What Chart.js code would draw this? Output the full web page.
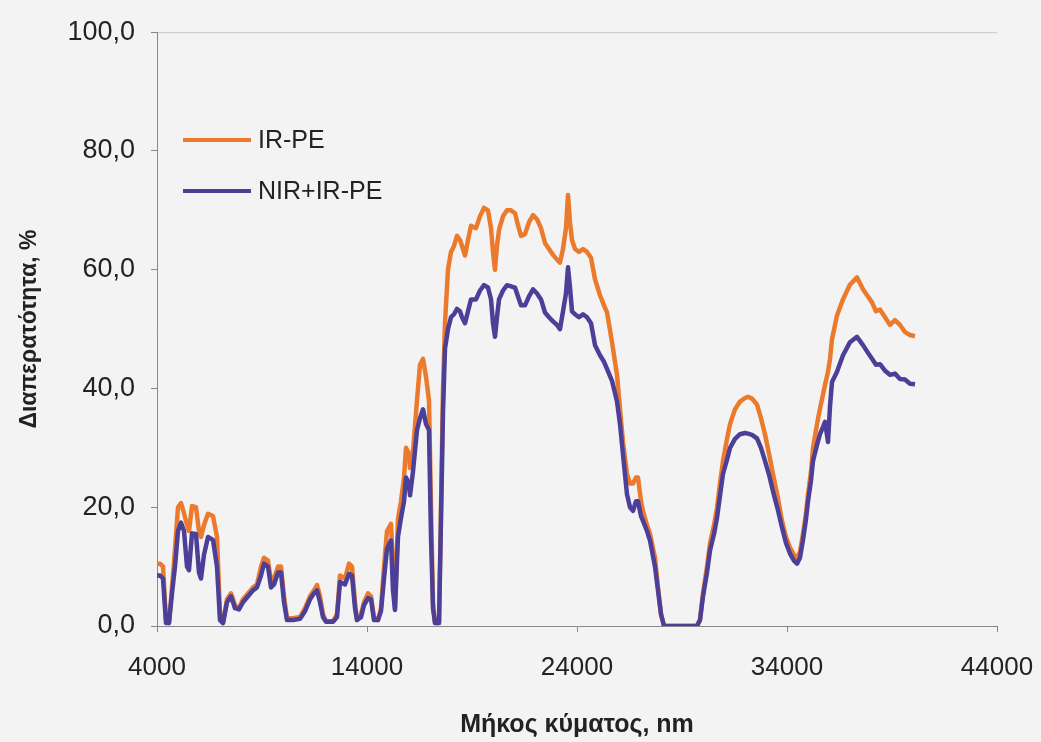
<!DOCTYPE html>
<html>
<head>
<meta charset="utf-8">
<script src="https://cdn.jsdelivr.net/npm/chart.js@4.4.1/dist/chart.umd.min.js"></script>
<style>
  html, body { margin: 0; padding: 0; background: #f3f3f3; }
  #wrap { width: 1041px; height: 742px; }
</style>
</head>
<body>
<div id="wrap"><canvas id="myChart" width="1041" height="742"></canvas></div>
<script>
// wavelength, nm
const wavelengths = [4000, 4143, 4286, 4429, 4571, 4714, 4857, 5000, 5143, 5286, 5429, 5524, 5667, 5857, 6000, 6095, 6238, 6429, 6667, 6857,
  7000, 7143, 7333, 7524, 7714, 7905, 8095, 8333, 8571, 8762, 8952, 9095, 9286, 9429, 9571, 9762, 9905, 10048, 10190, 10476,
  10810, 11048, 11286, 11476, 11619, 11762, 11905, 12048, 12381, 12571, 12714, 12952, 13143, 13286, 13429, 13524, 13714, 13857, 14048, 14190,
  14333, 14524, 14667, 14810, 14952, 15143, 15238, 15333, 15476, 15619, 15762, 15857, 16000, 16048, 16190, 16381, 16524, 16667, 16810, 16952,
  17048, 17143, 17238, 17429, 17524, 17619, 17714, 17857, 18000, 18143, 18286, 18429, 18524, 18667, 18810, 18952, 19190, 19381, 19571, 19762,
  19905, 20000, 20095, 20190, 20286, 20476, 20667, 20857, 21048, 21190, 21333, 21524, 21714, 21905, 22095, 22286, 22476, 22667, 22857, 23048,
  23190, 23333, 23476, 23571, 23667, 23762, 23905, 24095, 24286, 24476, 24667, 24857, 25095, 25286, 25429, 25667, 25905, 26048, 26190, 26381,
  26524, 26667, 26810, 26905, 27048, 27143, 27333, 27476, 27714, 27857, 28000, 28143, 29714, 29857, 30000, 30190, 30333, 30524, 30667, 30810,
  30952, 31143, 31286, 31524, 31762, 32000, 32143, 32333, 32571, 32762, 32952, 33143, 33333, 33571, 33762, 33952, 34143, 34333, 34476, 34619,
  34762, 34905, 35000, 35143, 35238, 35429, 35571, 35714, 35810, 35952, 36048, 36143, 36381, 36667, 37000, 37333, 37619, 37857, 38048, 38238,
  38429, 38667, 38905, 39143, 39381, 39619, 39857, 40095]

// transmittance, %
const irPe = [10.5, 10.5, 10, 1, 0.5, 6.5, 13, 20, 20.7, 19, 17, 16, 20.2, 20, 16, 15, 17, 18.9, 18.5, 15,
  2, 0.5, 4.5, 5.5, 3.5, 3, 4.5, 5.5, 6.5, 7, 10, 11.5, 11, 7.5, 8, 10, 10, 5, 1.3, 1.3,
  1.5, 3, 5, 6, 6.9, 5, 2, 0.8, 0.8, 2, 8.5, 8, 10.5, 10, 4, 1, 2, 4, 5.5, 5,
  1.5, 1, 3, 10, 16, 17.2, 10, 3, 18, 21, 25, 30, 29, 26.6, 29.4, 38, 44, 45, 42, 38,
  20, 4, 0.5, 0.5, 20, 40, 51, 60, 63, 64, 65.7, 65, 64, 62.4, 65, 67.4, 67, 69, 70.4, 70,
  67, 63, 60, 64, 66.7, 69, 70, 70, 69.5, 67.5, 65.7, 66, 68, 69.2, 68.5, 67, 64.5, 63.5, 62.5, 61.7,
  61.2, 63.5, 67, 72.6, 68, 65, 63.5, 63, 63.5, 63, 62, 58.4, 55.7, 54, 52.8, 47.8, 42.3, 36.6, 31, 25.6,
  24, 24, 25, 25, 21, 19.4, 17, 15.5, 11.5, 6.5, 2, 0, 0, 1, 5.5, 10, 13.9, 17, 19.9, 24,
  27.8, 31.5, 34, 36.5, 37.8, 38.4, 38.6, 38.3, 37.3, 35, 32.3, 29, 25.6, 21.5, 17.7, 15, 13.2, 12, 11.5, 12.5,
  15.5, 19, 22.2, 26, 30, 34, 36.6, 39, 40.6, 42.8, 45, 48.3, 52.3, 55, 57.5, 58.7, 56.7, 55.5, 54.5, 53,
  53.3, 52, 50.7, 51.5, 50.7, 49.5, 49, 48.8]

const nirIrPe = [8.5, 8.5, 8, 0.5, 0.5, 5.5, 10, 16, 17.4, 16, 10, 9.4, 15.6, 15.5, 9, 8, 12, 15, 14.5, 10,
  1, 0.5, 4, 5, 3, 2.8, 4, 5, 6, 6.5, 8.5, 10.5, 10, 6.5, 7, 9, 9, 4, 1, 1,
  1.2, 2.5, 4.5, 5.5, 6, 4, 1.5, 0.7, 0.7, 1.5, 7.4, 7, 8.8, 8.5, 3, 1, 1.5, 3.5, 4.7, 4.5,
  1, 1, 2.5, 8, 13, 14.4, 6, 2.7, 15, 18.2, 21, 25, 24, 22, 26, 33, 35, 36.5, 34, 33,
  15, 3, 0.5, 0.5, 18, 36, 46.7, 50, 52, 52.5, 53.4, 53, 52, 51, 53, 55, 55, 56.5, 57.4, 57,
  55, 51, 48.7, 52, 55, 56.5, 57.4, 57.2, 57, 55.5, 54, 54, 55.5, 56.7, 56, 55, 52.8, 52, 51.3, 50.7,
  50, 53, 56, 60.4, 57, 53, 52.5, 52, 52.5, 52, 51, 47.3, 45.6, 44.5, 43.3, 41.3, 37.8, 34, 28.9, 22.2,
  20, 19.4, 21, 21, 18.5, 17.7, 16, 14.4, 10, 6, 2, 0, 0, 1, 5, 9, 12.7, 15.5, 18.2, 22,
  25.6, 28, 30, 31.5, 32.3, 32.5, 32.4, 32.2, 31.6, 30, 27.8, 25.5, 22.7, 19.5, 16.6, 14, 12.2, 11, 10.5, 11.5,
  14.5, 18, 21, 24.5, 27.8, 30.5, 32.3, 33.5, 34.4, 31, 37, 41.1, 42.8, 45.6, 47.8, 48.7, 47.3, 46, 45, 44,
  44.1, 43, 42.3, 42.5, 41.6, 41.5, 40.8, 40.7]

const seriesNames = ["IR-PE", "NIR+IR-PE"]
const seriesColors = ["#ec7a2c", "#4c3f98"]

const toPoints = (vals) => vals.map((v, i) => ({ x: wavelengths[i], y: v }))

const font = "'Liberation Sans', Arial, sans-serif"

// legend sits inside the plot, upper left
const insideLegend = {
  id: "insideLegend",
  afterDraw(chart) {
    const ctx = chart.ctx
    ctx.save()
    ctx.font = "25px " + font
    ctx.textBaseline = "middle"
    ctx.lineWidth = 4
    const rows = [140, 191]
    chart.data.datasets.forEach((ds, i) => {
      const y = rows[i]
      ctx.strokeStyle = ds.borderColor
      ctx.beginPath()
      ctx.moveTo(183, y)
      ctx.lineTo(251, y)
      ctx.stroke()
      ctx.fillStyle = "#222"
      ctx.fillText(ds.label, 258, y + 1)
    })
    ctx.restore()
  },
  beforeDraw(chart) {
    // faint top border of plot area
    const { ctx, chartArea } = chart
    ctx.save()
    ctx.strokeStyle = "#c8c8c8"
    ctx.lineWidth = 1
    ctx.beginPath()
    ctx.moveTo(chartArea.left - 6, chartArea.top + 0.5)
    ctx.lineTo(chartArea.right, chartArea.top + 0.5)
    ctx.stroke()
    ctx.restore()
  },
}

const config = {
  type: "line",
  data: {
    datasets: [
      {
        label: seriesNames[0],
        data: toPoints(irPe),
        borderColor: seriesColors[0],
        backgroundColor: seriesColors[0],
        order: 1,
      },
      {
        label: seriesNames[1],
        data: toPoints(nirIrPe),
        borderColor: seriesColors[1],
        backgroundColor: seriesColors[1],
        order: 0,
      },
    ],
  },
  options: {
    responsive: false,
    animation: false,
    elements: {
      point: { radius: 0 },
      line: { borderWidth: 4.5, tension: 0, borderJoinStyle: "round" },
    },
    layout: { padding: { top: 28, right: 44, bottom: 2, left: 0 } },
    plugins: { legend: { display: false }, tooltip: { enabled: false } },
    scales: {
      x: {
        type: "linear",
        min: 4000,
        max: 44000,
        afterFit: (s) => { s.height = 114; s.paddingLeft = 0; s.paddingRight = 0 },
        ticks: {
          stepSize: 10000,
          padding: 20,
          color: "#222",
          font: { family: font, size: 26 },
          maxRotation: 0,
          callback: (v) => String(v),
        },
        grid: { drawOnChartArea: false, tickLength: 6, color: "#888" },
        border: { color: "#888" },
        title: {
          display: true,
          text: "Μήκος κύματος, nm",
          color: "#222",
          font: { family: font, size: 25, weight: "bold" },
          padding: { top: 0, bottom: 0 },
        },
      },
      y: {
        min: 0,
        max: 100,
        afterFit: (s) => { s.width = 157 },
        ticks: {
          stepSize: 20,
          padding: 16,
          color: "#222",
          font: { family: font, size: 27 },
          callback: (v) => v.toFixed(1).replace(".", ","),
        },
        grid: { drawOnChartArea: false, tickLength: 6, color: "#888" },
        border: { color: "#888" },
        title: {
          display: true,
          text: "Διαπερατότητα, %",
          color: "#222",
          font: { family: font, size: 23, weight: "bold" },
          padding: { top: 16, bottom: 0 },
        },
      },
    },
  },
  plugins: [insideLegend],
}

const myChart = new Chart(document.getElementById("myChart"), config)
</script>
</body>
</html>
